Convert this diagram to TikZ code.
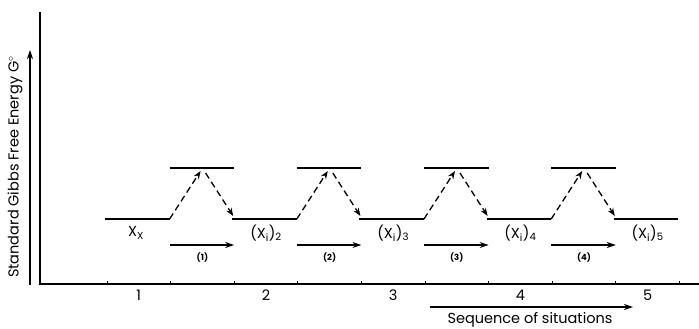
\documentclass[tikz,border=0pt]{standalone}
\usepackage{fontspec}
\setmainfont{Poppins}
\usetikzlibrary{arrows.meta}

\begin{document}
\begin{tikzpicture}[x=1pt,y=-1pt,
    level/.style={line width=1.6pt},
    jump/.style={line width=1.3pt, dash pattern=on 6.5pt off 4pt, -{Stealth[length=8pt,width=6pt]}},
    advance/.style={line width=1.4pt, -{Stealth[length=9pt,width=6pt]}},
    statelbl/.style={font=\fontsize{14.5}{14.5}\selectfont},
    steplbl/.style={font=\bfseries\fontsize{8.5}{8.5}\selectfont},
    axislbl/.style={font=\fontsize{14.5}{14.5}\selectfont}]
    % Tamaño del lienzo
    \useasboundingbox (0,0) rectangle (699,329);

    % Parámetros: primera marca, separación y alturas de los niveles
    \def\xo{107}    % primera marca del eje
    \def\dx{63.6}   % separación entre marcas
    \def\ylow{219}  % nivel bajo
    \def\yhigh{168} % nivel alto (estado de transición)

    % Ejes
    \coordinate (O) at (40,284);
    \coordinate (ytop) at (40,12);
    \coordinate (xend) at (699,284);
    \draw[line width=1.8pt] (ytop) -- (O) -- (xend);

    % Marcas del eje horizontal
    \foreach \k in {0,...,9} {
        \pgfmathsetmacro{\t}{\xo+\k*\dx}
        \coordinate (tick\k) at (\t,284);
        \draw[line width=0.9pt] (tick\k) -- ++(0,-3.5);
    }

    % Números de las situaciones
    \foreach \k in {1,...,5} {
        \pgfmathsetmacro{\m}{\xo+(2*\k-1.5)*\dx}
        \node[axislbl] (num\k) at (\m,295) {\k};
    }

    % Niveles bajos (estados) y sus etiquetas
    \foreach \k in {1,...,5} {
        \pgfmathsetmacro{\a}{\xo+(2*\k-2)*\dx}
        \pgfmathsetmacro{\b}{\xo+(2*\k-1)*\dx}
        \coordinate (low\k W) at (\a-2,\ylow);
        \coordinate (low\k E) at (\b-1,\ylow);
        \draw[level] (low\k W) -- (low\k E);
    }
    \node[statelbl] (state1) at (136,233) {X\textsubscript{X}};
    \foreach \k in {2,...,5} {
        \pgfmathsetmacro{\m}{\xo+(2*\k-1.5)*\dx}
        \node[statelbl] (state\k) at (\m,233) {(X\textsubscript{i})\textsubscript{\k}};
    }

    % Niveles altos, saltos discontinuos y flechas de avance
    \foreach \k in {1,...,4} {
        \pgfmathsetmacro{\a}{\xo+(2*\k-1)*\dx}
        \pgfmathsetmacro{\b}{\xo+(2*\k)*\dx}
        \coordinate (high\k W) at (\a-1,\yhigh);
        \coordinate (high\k E) at (\b,\yhigh);
        \draw[level] (high\k W) -- (high\k E);
        % subida y bajada
        \coordinate (peak\k a) at (\a+30,171);
        \coordinate (peak\k b) at (\a+35,173);
        \coordinate (land\k) at (\b-1,216);
        \draw[jump] (low\k E) -- (peak\k a);
        \draw[jump] (peak\k b) -- (land\k);
        % avance de la situación k a la k+1
        \coordinate (adv\k W) at (\a-1,245);
        \coordinate (adv\k E) at (\b,245);
        \draw[advance] (adv\k W) -- (adv\k E);
        \node[steplbl] (step\k) at ({(\a+\b)/2},258) {(\k)};
    }

    % Eje vertical: energía libre
    \coordinate (gbot) at (30,285);
    \coordinate (gtop) at (30,50);
    \draw[line width=1.1pt, -{Stealth[length=9pt,width=6pt]}] (gbot) -- (gtop);
    \node[axislbl, rotate=90] (gibbs) at (15,167) {Standard Gibbs Free Energy G$^{\circ}$};

    % Secuencia de situaciones
    \coordinate (seqW) at (430,307);
    \coordinate (seqE) at (633,307);
    \draw[line width=1.1pt, -{Stealth[length=9pt,width=6pt]}] (seqW) -- (seqE);
    \node[axislbl] (seq) at (530,320) {Sequence of situations};
\end{tikzpicture}
\end{document}
